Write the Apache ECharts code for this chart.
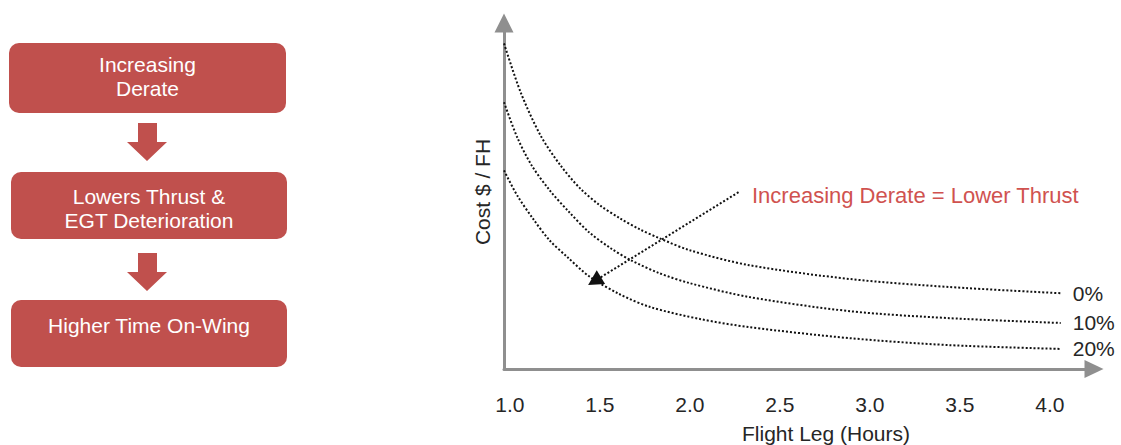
<!DOCTYPE html>
<html><head><meta charset="utf-8">
<script src="https://cdn.jsdelivr.net/npm/echarts@6/dist/echarts.min.js"></script>
<style>html,body{margin:0;padding:0;background:#fff}#c{width:1121px;height:445px}</style>
</head><body><div id="c"></div>
<script>
// ---- data ----
const seriesNames = ['0%', '10%', '20%'];
const hours0  = [0.967, 1.06, 1.17, 1.28, 1.39, 1.5, 1.61, 1.72, 1.83, 2.0, 2.33, 2.89, 3.44, 4.06];
const cost0   = [94.1, 79.9, 67.5, 58.9, 52.2, 47.3, 43.6, 40.4, 37.8, 34.3, 30.0, 26.0, 23.7, 21.9];
const hours10 = [0.967, 1.04, 1.12, 1.22, 1.33, 1.44, 1.56, 1.67, 1.83, 2.0, 2.33, 2.89, 3.44, 4.06];
const cost10  = [77.1, 67.0, 58.9, 51.7, 45.3, 39.5, 34.9, 31.5, 27.7, 24.8, 20.8, 16.7, 14.7, 13.3];
const hours20 = [0.967, 1.04, 1.13, 1.22, 1.32, 1.44, 1.61, 1.78, 2.06, 2.33, 2.89, 3.44, 4.06];
const cost20  = [57.4, 50.2, 43.3, 37.2, 32.3, 26.8, 21.6, 17.9, 14.4, 12.1, 8.9, 6.9, 5.8];
const xTickValues = [1.0, 1.5, 2.0, 2.5, 3.0, 3.5, 4.0];
const steps = [['Increasing', 'Derate'], ['Lowers Thrust &', 'EGT Deterioration'], ['Higher Time On-Wing']];
const arrowFrom = [2.27, 51.1];
const arrowTo = [1.47, 25.4];
const annotationText = 'Increasing Derate = Lower Thrust';
const xName = 'Flight Leg (Hours)';
const yName = 'Cost $ / FH';

// ---- chart ----
const FONT = '"Liberation Sans", Arial, sans-serif';
const RED = '#C0504D';
const zip = (xs, ys) => xs.map((x, i) => [x, ys[i]]);
const curves = [zip(hours0, cost0), zip(hours10, cost10), zip(hours20, cost20)];

const boxes = [
  {x: 9, y: 43, w: 277, h: 70, ty: 76.5},
  {x: 11, y: 172, w: 276, h: 67, ty: 208.5},
  {x: 11, y: 300, w: 276, h: 67, ty: 325}
];
const graphic = [];
boxes.forEach((b, i) => {
  graphic.push({type: 'rect', shape: {x: b.x, y: b.y, width: b.w, height: b.h, r: 10}, style: {fill: RED}, silent: true});
  graphic.push({type: 'text', silent: true, style: {
    text: steps[i].join('\n'), x: b.x + b.w / 2, y: b.ty, align: 'center', verticalAlign: 'middle',
    fill: '#ffffff', fontSize: 21, fontFamily: FONT, lineHeight: 24}});
});
[123, 253].forEach(t => {
  graphic.push({type: 'polygon', silent: true, shape: {points: [[138, t], [157, t], [157, t + 19], [167, t + 19], [147, t + 38], [127, t + 19], [138, t + 19]]}, style: {fill: RED}});
});
graphic.push({type: 'text', silent: true, style: {
  text: annotationText, x: 752, y: 195, align: 'left', verticalAlign: 'middle',
  fill: '#d0524f', fontSize: 22, fontFamily: FONT}});

const chart = echarts.init(document.getElementById('c'), null, {renderer: 'svg'});
chart.setOption({
  animation: false,
  backgroundColor: '#ffffff',
  textStyle: {fontFamily: FONT},
  grid: {left: 504, right: 27, top: 23, bottom: 76, outerBoundsMode: 'none', containLabel: false},
  xAxis: {
    type: 'value', min: 0.967, max: 4.245,
    name: xName, nameLocation: 'middle', nameGap: 54,
    nameTextStyle: {fontSize: 21, color: '#262626', fontFamily: FONT, padding: [0, 0, 0, 54]},
    axisLine: {show: true, onZero: false, symbol: ['none', 'triangle'], symbolSize: [18, 19],
      lineStyle: {color: '#8f8f8f', width: 3}},
    axisTick: {show: false},
    splitLine: {show: false},
    axisLabel: {customValues: xTickValues, formatter: v => Number(v).toFixed(1),
      fontSize: 21, color: '#262626', margin: 25, fontFamily: FONT}
  },
  yAxis: {
    type: 'value', min: 0, max: 100,
    name: yName, nameLocation: 'middle', nameGap: 11, nameRotate: 90,
    nameTextStyle: {fontSize: 21, color: '#262626', fontFamily: FONT, padding: [0, 0, 0, 8]},
    axisLine: {show: true, onZero: false, symbol: ['none', 'triangle'], symbolSize: [19, 19],
      lineStyle: {color: '#8f8f8f', width: 3}},
    axisTick: {show: false},
    axisLabel: {show: false},
    splitLine: {show: false}
  },
  series: seriesNames.map((name, i) => ({
    name: name, type: 'line', data: curves[i], smooth: 0.3, symbol: 'none', silent: true,
    lineStyle: {color: '#111111', width: 2, type: 'dotted'},
    endLabel: {show: true, formatter: '{a}', distance: 12, fontSize: 21, color: '#262626', fontFamily: FONT},
    markLine: i === 2 ? {
      silent: true, symbol: ['none', 'triangle'], symbolSize: [16, 15],
      label: {show: false},
      lineStyle: {color: '#111111', width: 2, type: 'dotted'},
      data: [[{coord: arrowFrom}, {coord: arrowTo}]]
    } : undefined
  })),
  graphic: graphic
});
</script>
</body></html>
